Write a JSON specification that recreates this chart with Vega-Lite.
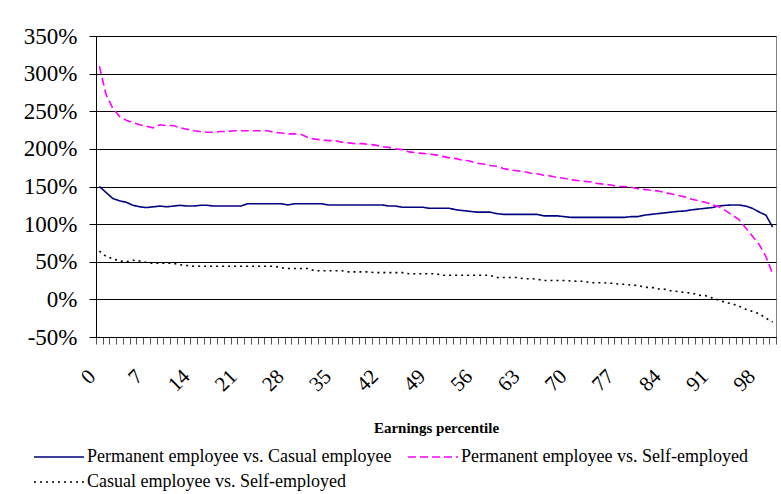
{
"$schema": "https://vega.github.io/schema/vega-lite/v6.json",
"width": 680,
"height": 301,
"autosize": {"type": "none"},
"padding": {"left": 96, "top": 36, "right": 5, "bottom": 157},
"background": "white",
"config": {
  "font": "Liberation Serif",
  "view": {"stroke": "#808080", "strokeWidth": 1}
},
"data": {"values": [
{"p":0,"s":"Permanent employee vs. Casual employee","v":150},
{"p":1,"s":"Permanent employee vs. Casual employee","v":142},
{"p":2,"s":"Permanent employee vs. Casual employee","v":134},
{"p":3,"s":"Permanent employee vs. Casual employee","v":131},
{"p":4,"s":"Permanent employee vs. Casual employee","v":129},
{"p":5,"s":"Permanent employee vs. Casual employee","v":125},
{"p":6,"s":"Permanent employee vs. Casual employee","v":123},
{"p":7,"s":"Permanent employee vs. Casual employee","v":122},
{"p":8,"s":"Permanent employee vs. Casual employee","v":123},
{"p":9,"s":"Permanent employee vs. Casual employee","v":124},
{"p":10,"s":"Permanent employee vs. Casual employee","v":123},
{"p":11,"s":"Permanent employee vs. Casual employee","v":124},
{"p":12,"s":"Permanent employee vs. Casual employee","v":125},
{"p":13,"s":"Permanent employee vs. Casual employee","v":124},
{"p":14,"s":"Permanent employee vs. Casual employee","v":124},
{"p":15,"s":"Permanent employee vs. Casual employee","v":125},
{"p":16,"s":"Permanent employee vs. Casual employee","v":125},
{"p":17,"s":"Permanent employee vs. Casual employee","v":124},
{"p":18,"s":"Permanent employee vs. Casual employee","v":124},
{"p":19,"s":"Permanent employee vs. Casual employee","v":124},
{"p":20,"s":"Permanent employee vs. Casual employee","v":124},
{"p":21,"s":"Permanent employee vs. Casual employee","v":124},
{"p":22,"s":"Permanent employee vs. Casual employee","v":127},
{"p":23,"s":"Permanent employee vs. Casual employee","v":127},
{"p":24,"s":"Permanent employee vs. Casual employee","v":127},
{"p":25,"s":"Permanent employee vs. Casual employee","v":127},
{"p":26,"s":"Permanent employee vs. Casual employee","v":127},
{"p":27,"s":"Permanent employee vs. Casual employee","v":127},
{"p":28,"s":"Permanent employee vs. Casual employee","v":125.5},
{"p":29,"s":"Permanent employee vs. Casual employee","v":127},
{"p":30,"s":"Permanent employee vs. Casual employee","v":127},
{"p":31,"s":"Permanent employee vs. Casual employee","v":127},
{"p":32,"s":"Permanent employee vs. Casual employee","v":127},
{"p":33,"s":"Permanent employee vs. Casual employee","v":127},
{"p":34,"s":"Permanent employee vs. Casual employee","v":125.5},
{"p":35,"s":"Permanent employee vs. Casual employee","v":125.5},
{"p":36,"s":"Permanent employee vs. Casual employee","v":125.5},
{"p":37,"s":"Permanent employee vs. Casual employee","v":125.5},
{"p":38,"s":"Permanent employee vs. Casual employee","v":125.5},
{"p":39,"s":"Permanent employee vs. Casual employee","v":125.5},
{"p":40,"s":"Permanent employee vs. Casual employee","v":125.5},
{"p":41,"s":"Permanent employee vs. Casual employee","v":125.5},
{"p":42,"s":"Permanent employee vs. Casual employee","v":125.5},
{"p":43,"s":"Permanent employee vs. Casual employee","v":124},
{"p":44,"s":"Permanent employee vs. Casual employee","v":124},
{"p":45,"s":"Permanent employee vs. Casual employee","v":122.5},
{"p":46,"s":"Permanent employee vs. Casual employee","v":122.5},
{"p":47,"s":"Permanent employee vs. Casual employee","v":122.5},
{"p":48,"s":"Permanent employee vs. Casual employee","v":122.5},
{"p":49,"s":"Permanent employee vs. Casual employee","v":121},
{"p":50,"s":"Permanent employee vs. Casual employee","v":121},
{"p":51,"s":"Permanent employee vs. Casual employee","v":121},
{"p":52,"s":"Permanent employee vs. Casual employee","v":121},
{"p":53,"s":"Permanent employee vs. Casual employee","v":119},
{"p":54,"s":"Permanent employee vs. Casual employee","v":118},
{"p":55,"s":"Permanent employee vs. Casual employee","v":117},
{"p":56,"s":"Permanent employee vs. Casual employee","v":116},
{"p":57,"s":"Permanent employee vs. Casual employee","v":116},
{"p":58,"s":"Permanent employee vs. Casual employee","v":116},
{"p":59,"s":"Permanent employee vs. Casual employee","v":114},
{"p":60,"s":"Permanent employee vs. Casual employee","v":113},
{"p":61,"s":"Permanent employee vs. Casual employee","v":113},
{"p":62,"s":"Permanent employee vs. Casual employee","v":113},
{"p":63,"s":"Permanent employee vs. Casual employee","v":113},
{"p":64,"s":"Permanent employee vs. Casual employee","v":113},
{"p":65,"s":"Permanent employee vs. Casual employee","v":113},
{"p":66,"s":"Permanent employee vs. Casual employee","v":111},
{"p":67,"s":"Permanent employee vs. Casual employee","v":111},
{"p":68,"s":"Permanent employee vs. Casual employee","v":111},
{"p":69,"s":"Permanent employee vs. Casual employee","v":110},
{"p":70,"s":"Permanent employee vs. Casual employee","v":109},
{"p":71,"s":"Permanent employee vs. Casual employee","v":109},
{"p":72,"s":"Permanent employee vs. Casual employee","v":109},
{"p":73,"s":"Permanent employee vs. Casual employee","v":109},
{"p":74,"s":"Permanent employee vs. Casual employee","v":109},
{"p":75,"s":"Permanent employee vs. Casual employee","v":109},
{"p":76,"s":"Permanent employee vs. Casual employee","v":109},
{"p":77,"s":"Permanent employee vs. Casual employee","v":109},
{"p":78,"s":"Permanent employee vs. Casual employee","v":109},
{"p":79,"s":"Permanent employee vs. Casual employee","v":110},
{"p":80,"s":"Permanent employee vs. Casual employee","v":110},
{"p":81,"s":"Permanent employee vs. Casual employee","v":112},
{"p":82,"s":"Permanent employee vs. Casual employee","v":113},
{"p":83,"s":"Permanent employee vs. Casual employee","v":114},
{"p":84,"s":"Permanent employee vs. Casual employee","v":115},
{"p":85,"s":"Permanent employee vs. Casual employee","v":116},
{"p":86,"s":"Permanent employee vs. Casual employee","v":117},
{"p":87,"s":"Permanent employee vs. Casual employee","v":117.5},
{"p":88,"s":"Permanent employee vs. Casual employee","v":119},
{"p":89,"s":"Permanent employee vs. Casual employee","v":120},
{"p":90,"s":"Permanent employee vs. Casual employee","v":121},
{"p":91,"s":"Permanent employee vs. Casual employee","v":122},
{"p":92,"s":"Permanent employee vs. Casual employee","v":124},
{"p":93,"s":"Permanent employee vs. Casual employee","v":125},
{"p":94,"s":"Permanent employee vs. Casual employee","v":125.5},
{"p":95,"s":"Permanent employee vs. Casual employee","v":125.5},
{"p":96,"s":"Permanent employee vs. Casual employee","v":124},
{"p":97,"s":"Permanent employee vs. Casual employee","v":121},
{"p":98,"s":"Permanent employee vs. Casual employee","v":116},
{"p":99,"s":"Permanent employee vs. Casual employee","v":112},
{"p":100,"s":"Permanent employee vs. Casual employee","v":96},
{"p":0,"s":"Permanent employee vs. Self-employed","v":310},
{"p":1,"s":"Permanent employee vs. Self-employed","v":272},
{"p":2,"s":"Permanent employee vs. Self-employed","v":254},
{"p":3,"s":"Permanent employee vs. Self-employed","v":243},
{"p":4,"s":"Permanent employee vs. Self-employed","v":238},
{"p":5,"s":"Permanent employee vs. Self-employed","v":235},
{"p":6,"s":"Permanent employee vs. Self-employed","v":232},
{"p":7,"s":"Permanent employee vs. Self-employed","v":230},
{"p":8,"s":"Permanent employee vs. Self-employed","v":228},
{"p":9,"s":"Permanent employee vs. Self-employed","v":232},
{"p":10,"s":"Permanent employee vs. Self-employed","v":231},
{"p":11,"s":"Permanent employee vs. Self-employed","v":231},
{"p":12,"s":"Permanent employee vs. Self-employed","v":228},
{"p":13,"s":"Permanent employee vs. Self-employed","v":226},
{"p":14,"s":"Permanent employee vs. Self-employed","v":224},
{"p":15,"s":"Permanent employee vs. Self-employed","v":223},
{"p":16,"s":"Permanent employee vs. Self-employed","v":222},
{"p":17,"s":"Permanent employee vs. Self-employed","v":222},
{"p":18,"s":"Permanent employee vs. Self-employed","v":223},
{"p":19,"s":"Permanent employee vs. Self-employed","v":223},
{"p":20,"s":"Permanent employee vs. Self-employed","v":224},
{"p":21,"s":"Permanent employee vs. Self-employed","v":224},
{"p":22,"s":"Permanent employee vs. Self-employed","v":224},
{"p":23,"s":"Permanent employee vs. Self-employed","v":224},
{"p":24,"s":"Permanent employee vs. Self-employed","v":224},
{"p":25,"s":"Permanent employee vs. Self-employed","v":224},
{"p":26,"s":"Permanent employee vs. Self-employed","v":222},
{"p":27,"s":"Permanent employee vs. Self-employed","v":221},
{"p":28,"s":"Permanent employee vs. Self-employed","v":220},
{"p":29,"s":"Permanent employee vs. Self-employed","v":220},
{"p":30,"s":"Permanent employee vs. Self-employed","v":219},
{"p":31,"s":"Permanent employee vs. Self-employed","v":215},
{"p":32,"s":"Permanent employee vs. Self-employed","v":213},
{"p":33,"s":"Permanent employee vs. Self-employed","v":212},
{"p":34,"s":"Permanent employee vs. Self-employed","v":211},
{"p":35,"s":"Permanent employee vs. Self-employed","v":211},
{"p":36,"s":"Permanent employee vs. Self-employed","v":209},
{"p":37,"s":"Permanent employee vs. Self-employed","v":208},
{"p":38,"s":"Permanent employee vs. Self-employed","v":207},
{"p":39,"s":"Permanent employee vs. Self-employed","v":207},
{"p":40,"s":"Permanent employee vs. Self-employed","v":206},
{"p":41,"s":"Permanent employee vs. Self-employed","v":205},
{"p":42,"s":"Permanent employee vs. Self-employed","v":203},
{"p":43,"s":"Permanent employee vs. Self-employed","v":202},
{"p":44,"s":"Permanent employee vs. Self-employed","v":200},
{"p":45,"s":"Permanent employee vs. Self-employed","v":199},
{"p":46,"s":"Permanent employee vs. Self-employed","v":196},
{"p":47,"s":"Permanent employee vs. Self-employed","v":195},
{"p":48,"s":"Permanent employee vs. Self-employed","v":194},
{"p":49,"s":"Permanent employee vs. Self-employed","v":193},
{"p":50,"s":"Permanent employee vs. Self-employed","v":192},
{"p":51,"s":"Permanent employee vs. Self-employed","v":190},
{"p":52,"s":"Permanent employee vs. Self-employed","v":188},
{"p":53,"s":"Permanent employee vs. Self-employed","v":187},
{"p":54,"s":"Permanent employee vs. Self-employed","v":185},
{"p":55,"s":"Permanent employee vs. Self-employed","v":184},
{"p":56,"s":"Permanent employee vs. Self-employed","v":181},
{"p":57,"s":"Permanent employee vs. Self-employed","v":180},
{"p":58,"s":"Permanent employee vs. Self-employed","v":178},
{"p":59,"s":"Permanent employee vs. Self-employed","v":177},
{"p":60,"s":"Permanent employee vs. Self-employed","v":174},
{"p":61,"s":"Permanent employee vs. Self-employed","v":172},
{"p":62,"s":"Permanent employee vs. Self-employed","v":171},
{"p":63,"s":"Permanent employee vs. Self-employed","v":170},
{"p":64,"s":"Permanent employee vs. Self-employed","v":168},
{"p":65,"s":"Permanent employee vs. Self-employed","v":167},
{"p":66,"s":"Permanent employee vs. Self-employed","v":165},
{"p":67,"s":"Permanent employee vs. Self-employed","v":164},
{"p":68,"s":"Permanent employee vs. Self-employed","v":162},
{"p":69,"s":"Permanent employee vs. Self-employed","v":161},
{"p":70,"s":"Permanent employee vs. Self-employed","v":159},
{"p":71,"s":"Permanent employee vs. Self-employed","v":158},
{"p":72,"s":"Permanent employee vs. Self-employed","v":157},
{"p":73,"s":"Permanent employee vs. Self-employed","v":156},
{"p":74,"s":"Permanent employee vs. Self-employed","v":154},
{"p":75,"s":"Permanent employee vs. Self-employed","v":153},
{"p":76,"s":"Permanent employee vs. Self-employed","v":152},
{"p":77,"s":"Permanent employee vs. Self-employed","v":150},
{"p":78,"s":"Permanent employee vs. Self-employed","v":150},
{"p":79,"s":"Permanent employee vs. Self-employed","v":149},
{"p":80,"s":"Permanent employee vs. Self-employed","v":147},
{"p":81,"s":"Permanent employee vs. Self-employed","v":146},
{"p":82,"s":"Permanent employee vs. Self-employed","v":145},
{"p":83,"s":"Permanent employee vs. Self-employed","v":144},
{"p":84,"s":"Permanent employee vs. Self-employed","v":142},
{"p":85,"s":"Permanent employee vs. Self-employed","v":140},
{"p":86,"s":"Permanent employee vs. Self-employed","v":138},
{"p":87,"s":"Permanent employee vs. Self-employed","v":136},
{"p":88,"s":"Permanent employee vs. Self-employed","v":133},
{"p":89,"s":"Permanent employee vs. Self-employed","v":131},
{"p":90,"s":"Permanent employee vs. Self-employed","v":129},
{"p":91,"s":"Permanent employee vs. Self-employed","v":126},
{"p":92,"s":"Permanent employee vs. Self-employed","v":123},
{"p":93,"s":"Permanent employee vs. Self-employed","v":118},
{"p":94,"s":"Permanent employee vs. Self-employed","v":112},
{"p":95,"s":"Permanent employee vs. Self-employed","v":106},
{"p":96,"s":"Permanent employee vs. Self-employed","v":95},
{"p":97,"s":"Permanent employee vs. Self-employed","v":84},
{"p":98,"s":"Permanent employee vs. Self-employed","v":73},
{"p":99,"s":"Permanent employee vs. Self-employed","v":57},
{"p":100,"s":"Permanent employee vs. Self-employed","v":34},
{"p":0,"s":"Casual employee vs. Self-employed","v":64},
{"p":1,"s":"Casual employee vs. Self-employed","v":57},
{"p":2,"s":"Casual employee vs. Self-employed","v":54},
{"p":3,"s":"Casual employee vs. Self-employed","v":51},
{"p":4,"s":"Casual employee vs. Self-employed","v":50},
{"p":5,"s":"Casual employee vs. Self-employed","v":52},
{"p":6,"s":"Casual employee vs. Self-employed","v":51},
{"p":7,"s":"Casual employee vs. Self-employed","v":49},
{"p":8,"s":"Casual employee vs. Self-employed","v":48},
{"p":9,"s":"Casual employee vs. Self-employed","v":48},
{"p":10,"s":"Casual employee vs. Self-employed","v":48},
{"p":11,"s":"Casual employee vs. Self-employed","v":48},
{"p":12,"s":"Casual employee vs. Self-employed","v":46},
{"p":13,"s":"Casual employee vs. Self-employed","v":45},
{"p":14,"s":"Casual employee vs. Self-employed","v":44},
{"p":15,"s":"Casual employee vs. Self-employed","v":44},
{"p":16,"s":"Casual employee vs. Self-employed","v":44},
{"p":17,"s":"Casual employee vs. Self-employed","v":44},
{"p":18,"s":"Casual employee vs. Self-employed","v":44},
{"p":19,"s":"Casual employee vs. Self-employed","v":44},
{"p":20,"s":"Casual employee vs. Self-employed","v":44},
{"p":21,"s":"Casual employee vs. Self-employed","v":44},
{"p":22,"s":"Casual employee vs. Self-employed","v":44},
{"p":23,"s":"Casual employee vs. Self-employed","v":44},
{"p":24,"s":"Casual employee vs. Self-employed","v":44},
{"p":25,"s":"Casual employee vs. Self-employed","v":44},
{"p":26,"s":"Casual employee vs. Self-employed","v":44},
{"p":27,"s":"Casual employee vs. Self-employed","v":42},
{"p":28,"s":"Casual employee vs. Self-employed","v":41},
{"p":29,"s":"Casual employee vs. Self-employed","v":41},
{"p":30,"s":"Casual employee vs. Self-employed","v":41},
{"p":31,"s":"Casual employee vs. Self-employed","v":41},
{"p":32,"s":"Casual employee vs. Self-employed","v":38},
{"p":33,"s":"Casual employee vs. Self-employed","v":38},
{"p":34,"s":"Casual employee vs. Self-employed","v":38},
{"p":35,"s":"Casual employee vs. Self-employed","v":38},
{"p":36,"s":"Casual employee vs. Self-employed","v":38},
{"p":37,"s":"Casual employee vs. Self-employed","v":36.5},
{"p":38,"s":"Casual employee vs. Self-employed","v":36.5},
{"p":39,"s":"Casual employee vs. Self-employed","v":36.5},
{"p":40,"s":"Casual employee vs. Self-employed","v":36.5},
{"p":41,"s":"Casual employee vs. Self-employed","v":35.5},
{"p":42,"s":"Casual employee vs. Self-employed","v":35.5},
{"p":43,"s":"Casual employee vs. Self-employed","v":35.5},
{"p":44,"s":"Casual employee vs. Self-employed","v":35.5},
{"p":45,"s":"Casual employee vs. Self-employed","v":35.5},
{"p":46,"s":"Casual employee vs. Self-employed","v":34},
{"p":47,"s":"Casual employee vs. Self-employed","v":34},
{"p":48,"s":"Casual employee vs. Self-employed","v":34},
{"p":49,"s":"Casual employee vs. Self-employed","v":34},
{"p":50,"s":"Casual employee vs. Self-employed","v":34},
{"p":51,"s":"Casual employee vs. Self-employed","v":32},
{"p":52,"s":"Casual employee vs. Self-employed","v":32},
{"p":53,"s":"Casual employee vs. Self-employed","v":32},
{"p":54,"s":"Casual employee vs. Self-employed","v":32},
{"p":55,"s":"Casual employee vs. Self-employed","v":32},
{"p":56,"s":"Casual employee vs. Self-employed","v":32},
{"p":57,"s":"Casual employee vs. Self-employed","v":32},
{"p":58,"s":"Casual employee vs. Self-employed","v":32},
{"p":59,"s":"Casual employee vs. Self-employed","v":29},
{"p":60,"s":"Casual employee vs. Self-employed","v":29},
{"p":61,"s":"Casual employee vs. Self-employed","v":29},
{"p":62,"s":"Casual employee vs. Self-employed","v":29},
{"p":63,"s":"Casual employee vs. Self-employed","v":27.5},
{"p":64,"s":"Casual employee vs. Self-employed","v":27.5},
{"p":65,"s":"Casual employee vs. Self-employed","v":27},
{"p":66,"s":"Casual employee vs. Self-employed","v":25},
{"p":67,"s":"Casual employee vs. Self-employed","v":25},
{"p":68,"s":"Casual employee vs. Self-employed","v":25},
{"p":69,"s":"Casual employee vs. Self-employed","v":25},
{"p":70,"s":"Casual employee vs. Self-employed","v":24.5},
{"p":71,"s":"Casual employee vs. Self-employed","v":24},
{"p":72,"s":"Casual employee vs. Self-employed","v":24},
{"p":73,"s":"Casual employee vs. Self-employed","v":22},
{"p":74,"s":"Casual employee vs. Self-employed","v":22},
{"p":75,"s":"Casual employee vs. Self-employed","v":22},
{"p":76,"s":"Casual employee vs. Self-employed","v":21.5},
{"p":77,"s":"Casual employee vs. Self-employed","v":20.5},
{"p":78,"s":"Casual employee vs. Self-employed","v":20},
{"p":79,"s":"Casual employee vs. Self-employed","v":19},
{"p":80,"s":"Casual employee vs. Self-employed","v":18.5},
{"p":81,"s":"Casual employee vs. Self-employed","v":16},
{"p":82,"s":"Casual employee vs. Self-employed","v":16},
{"p":83,"s":"Casual employee vs. Self-employed","v":14},
{"p":84,"s":"Casual employee vs. Self-employed","v":13.5},
{"p":85,"s":"Casual employee vs. Self-employed","v":11},
{"p":86,"s":"Casual employee vs. Self-employed","v":10.5},
{"p":87,"s":"Casual employee vs. Self-employed","v":9},
{"p":88,"s":"Casual employee vs. Self-employed","v":8.5},
{"p":89,"s":"Casual employee vs. Self-employed","v":5.5},
{"p":90,"s":"Casual employee vs. Self-employed","v":5},
{"p":91,"s":"Casual employee vs. Self-employed","v":2},
{"p":92,"s":"Casual employee vs. Self-employed","v":-1},
{"p":93,"s":"Casual employee vs. Self-employed","v":-4},
{"p":94,"s":"Casual employee vs. Self-employed","v":-6},
{"p":95,"s":"Casual employee vs. Self-employed","v":-9},
{"p":96,"s":"Casual employee vs. Self-employed","v":-13},
{"p":97,"s":"Casual employee vs. Self-employed","v":-16},
{"p":98,"s":"Casual employee vs. Self-employed","v":-19},
{"p":99,"s":"Casual employee vs. Self-employed","v":-25},
{"p":100,"s":"Casual employee vs. Self-employed","v":-30}
]},
"resolve": {"axis": {"x": "independent"}},
"layer": [
  {
    "mark": {"type": "line", "opacity": 0},
    "encoding": {
      "x": {
        "field": "p", "type": "quantitative",
        "scale": {"domain": [-0.5, 100.5], "nice": false, "zero": false},
        "axis": {
          "orient": "bottom", "title": null, "labels": false,
          "values": [-0.5,0.5,1.5,2.5,3.5,4.5,5.5,6.5,7.5,8.5,9.5,10.5,11.5,12.5,13.5,14.5,15.5,16.5,17.5,18.5,19.5,20.5,21.5,22.5,23.5,24.5,25.5,26.5,27.5,28.5,29.5,30.5,31.5,32.5,33.5,34.5,35.5,36.5,37.5,38.5,39.5,40.5,41.5,42.5,43.5,44.5,45.5,46.5,47.5,48.5,49.5,50.5,51.5,52.5,53.5,54.5,55.5,56.5,57.5,58.5,59.5,60.5,61.5,62.5,63.5,64.5,65.5,66.5,67.5,68.5,69.5,70.5,71.5,72.5,73.5,74.5,75.5,76.5,77.5,78.5,79.5,80.5,81.5,82.5,83.5,84.5,85.5,86.5,87.5,88.5,89.5,90.5,91.5,92.5,93.5,94.5,95.5,96.5,97.5,98.5,99.5,100.5],
          "ticks": true, "tickSize": 7, "tickColor": "#555",
          "domain": true, "domainColor": "#000", "grid": false
        }
      },
      "y": {
        "field": "v", "type": "quantitative",
        "scale": {"domain": [-50, 350], "nice": false, "zero": false},
        "axis": {
          "title": null,
          "values": [-50, 0, 50, 100, 150, 200, 250, 300, 350],
          "labelExpr": "datum.value + '%'",
          "labelFontSize": 23, "labelColor": "#000", "labelPadding": 12,
          "tickSize": 7, "tickColor": "#000", "domainColor": "#000",
          "grid": true, "gridColor": "#000", "gridOpacity": 1
        }
      },
      "detail": {"field": "s", "type": "nominal"}
    }
  },
  {
    "mark": {"type": "line", "strokeWidth": 1.6},
    "encoding": {
      "x": {
        "field": "p", "type": "quantitative",
        "scale": {"domain": [-0.5, 100.5], "nice": false, "zero": false},
        "axis": {
          "orient": "bottom",
          "title": "Earnings percentile",
          "titleFontSize": 15, "titleFontWeight": "bold", "titleColor": "#000",
          "titleBaseline": "middle", "titleY": 90,
          "values": [-0.5, 6.5, 13.5, 20.5, 27.5, 34.5, 41.5, 48.5, 55.5, 62.5, 69.5, 76.5, 83.5, 90.5, 97.5],
          "labelExpr": "'' + (datum.value + 0.5)",
          "labelAngle": -45, "labelAlign": "right", "labelBaseline": "middle",
          "labelFontSize": 21, "labelColor": "#000",
          "labelPadding": 36, "labelOffset": -4, "labelOverlap": false, "labelFlush": false,
          "ticks": false, "domain": false, "grid": false
        }
      },
      "y": {
        "field": "v", "type": "quantitative",
        "scale": {"domain": [-50, 350], "nice": false, "zero": false},
        "axis": {
          "title": null,
          "values": [-50, 0, 50, 100, 150, 200, 250, 300, 350],
          "labelExpr": "datum.value + '%'",
          "labelFontSize": 23, "labelColor": "#000", "labelPadding": 12,
          "tickSize": 7, "tickColor": "#000", "domainColor": "#000",
          "grid": true, "gridColor": "#000", "gridOpacity": 1
        }
      },
      "color": {
        "field": "s", "type": "nominal",
        "scale": {
          "domain": ["Permanent employee vs. Casual employee", "Permanent employee vs. Self-employed", "Casual employee vs. Self-employed"],
          "range": ["#000080", "#FF00FF", "#000000"]
        },
        "legend": {
          "title": null, "orient": "none", "legendX": -46, "legendY": 412,
          "direction": "horizontal", "columns": 2, "columnPadding": 12, "rowPadding": 7,
          "symbolType": "M-5,0H5", "symbolSize": 100, "symbolStrokeWidth": 1.6,
          "labelFontSize": 18, "labelColor": "#000", "labelOffset": 19, "labelLimit": 500,
          "padding": 0
        }
      },
      "strokeDash": {
        "field": "s", "type": "nominal",
        "scale": {
          "domain": ["Permanent employee vs. Casual employee", "Permanent employee vs. Self-employed", "Casual employee vs. Self-employed"],
          "range": [[1, 0], [8, 4], [2, 4]]
        },
        "legend": {
          "title": null, "orient": "none", "legendX": -46, "legendY": 412,
          "direction": "horizontal", "columns": 2, "columnPadding": 12, "rowPadding": 7,
          "symbolType": "M-5,0H5", "symbolSize": 100, "symbolStrokeWidth": 1.6,
          "labelFontSize": 18, "labelColor": "#000", "labelOffset": 19, "labelLimit": 500,
          "padding": 0
        }
      }
    }
  }
]
}
